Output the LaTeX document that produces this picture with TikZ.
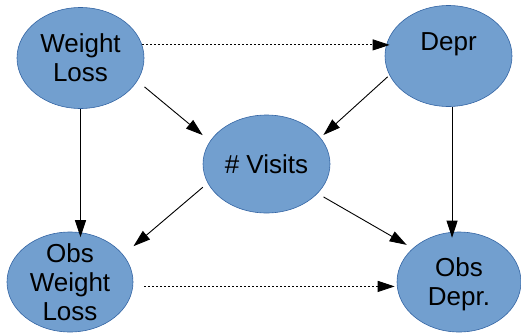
\documentclass[tikz,border=0pt]{standalone}
\usepackage{fontspec}
\setmainfont{Liberation Sans}
\usetikzlibrary{shapes.geometric, arrows.meta}
\definecolor{varfill}{RGB}{114,159,207}
\definecolor{varline}{RGB}{52,101,164}

\begin{document}
\begin{tikzpicture}[x=1pt, y=-1pt, >={Triangle[length=17pt, width=11pt]},
    font=\fontsize{26pt}{29pt}\selectfont,
    var/.style={ellipse, draw=varline, fill=varfill, line width=0.6pt, minimum width=127pt, minimum height=101pt, inner sep=-15pt, align=center, text depth=0pt},
    link/.style={->, line width=0.9pt},
    obs/.style={->, line width=0.8pt, dash pattern=on 2pt off 2pt}]
    \useasboundingbox (0,0) rectangle (521,332);
    \node[var] (wl) at (80.5,58) {Weight\\Loss};
    \node[var] (dp) at (448.5,56) {Depr\\\mbox{}};
    \node[var, minimum height=98pt] (vis) at (266.5,164) {\# Visits};
    \node[var, minimum width=126pt, minimum height=100pt] (owl) at (70,282) {Obs\\Weight\\Loss};
    \node[var, minimum width=124pt, minimum height=100pt] (od) at (459,282) {Obs\\Depr.};
    \draw[obs, shorten >=-5pt] (wl.12) -- (wl.12 -| dp.west);
    \draw[link, shorten <=9.2pt, shorten >=9.5pt] (wl.-22) -- (vis.158);
    \draw[link, shorten >=-5.5pt] (wl.south) -- (wl.south |- owl.north);
    \draw[link, shorten <=2.4pt, shorten >=4pt] (dp.198) -- (vis.26);
    \draw[link, shorten >=-6pt] (dp.-86) -- (dp.-86 |- od.north);
    \draw[link, shorten <=6.4pt, shorten >=13.4pt] (vis.198) -- (owl.27);
    \draw[link, shorten <=6.8pt, shorten >=7pt] (vis.-30) -- (od.144);
    \draw[obs, shorten <=11pt, shorten >=2pt] (owl.-4) -- (owl.-4 -| od.west);
\end{tikzpicture}
\end{document}
